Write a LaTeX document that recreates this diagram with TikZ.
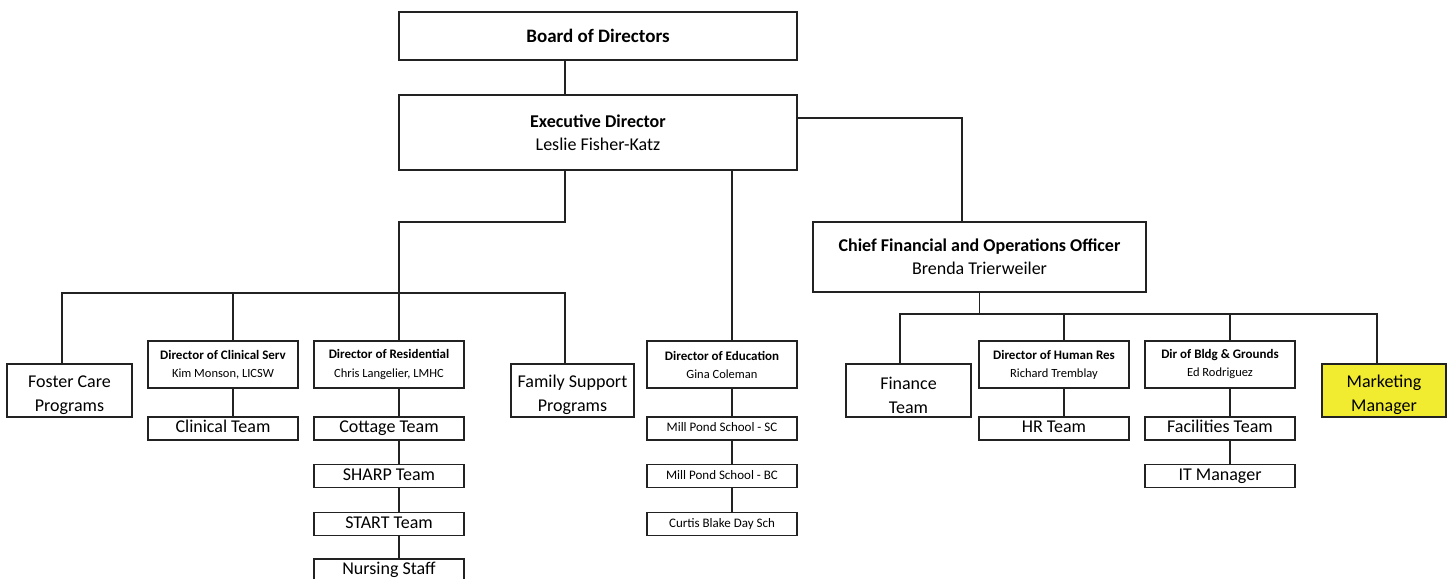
\documentclass[tikz,border=0pt]{standalone}
\usepackage{fontspec}
\setmainfont{Carlito}
\definecolor{linegray}{HTML}{222222}
\definecolor{markyellow}{RGB}{242,236,48}
\tikzset{
  box/.style={draw=linegray, line width=1.4pt, inner sep=0pt, align=center},
  bigbox/.style={box, font=\fontsize{18}{23}\selectfont},
  unitbox/.style={box, font=\fontsize{18}{24}\selectfont},
  smallbox/.style={box, font=\fontsize{13}{18}\selectfont},
  dirbox/.style={smallbox, minimum width=150pt, minimum height=47pt},
  teambox/.style={box, font=\fontsize{18}{20}\selectfont, execute at begin node=\strut,
    minimum width=150pt, minimum height=23pt},
  schoolbox/.style={box, font=\fontsize{13}{16}\selectfont, execute at begin node=\strut,
    minimum width=150pt, minimum height=23pt},
  progbox/.style={unitbox, minimum width=125pt, minimum height=53pt},
}
\newcommand{\who}[1]{{\fontsize{12.5}{18}\selectfont #1}}
\newcommand{\lift}{\rule{0pt}{22pt}}
\begin{document}
\begin{tikzpicture}[x=1pt,y=-1pt]
  \useasboundingbox (0,0) rectangle (1450,578);
  \clip (0,0) rectangle (1450,578);
  \node[bigbox, minimum width=398pt, minimum height=48pt, font=\fontsize{19}{23}\selectfont] (board) at (598,36) {\bfseries Board of Directors};
  \node[bigbox, minimum width=398pt, minimum height=75pt] (exec) at (598,132.5) {\textbf{Executive Director}\\Leslie Fisher-Katz};
  \node[bigbox, minimum width=333pt, minimum height=70pt] (cfo) at (979.5,257) {\textbf{Chief Financial and Operations Officer}\\Brenda Trierweiler};
  % programs side
  \node[progbox] (foster) at (69.5,390.5) {\lift Foster Care\\Programs};
  \node[dirbox] (clin) at (223,364.5) {\textbf{Director of Clinical Serv}\\\who{Kim Monson, LICSW}};
  \node[teambox] (clinteam) at (223,428.5) {Clinical Team};
  \node[dirbox] (resi) at (389,364.5) {\textbf{Director of Residential}\\\who{Chris Langelier, LMHC}};
  \node[teambox] (cottage) at (389,428.5) {Cottage Team};
  \node[teambox] (sharp) at (389,476) {SHARP Team};
  \node[teambox] (start) at (389,524) {START Team};
  \node[teambox] (nursing) at (389,570.5) {Nursing Staff};
  \node[progbox, minimum width=123pt] (family) at (572.5,390.5) {\lift Family Support\\Programs};
  \node[dirbox] (edu) at (722,364.5) {\textbf{Director of Education}\\\who{Gina Coleman}};
  \node[schoolbox] (millsc) at (722,428.5) {Mill Pond School - SC};
  \node[schoolbox] (millbc) at (722,476) {Mill Pond School - BC};
  \node[schoolbox] (curtis) at (722,524) {Curtis Blake Day Sch};
  % operations side
  \node[progbox] (finance) at (908.5,390.5) {\lift Finance\\Team};
  \node[dirbox] (hr) at (1054,364.5) {\textbf{Director of Human Res}\\\who{Richard Tremblay}};
  \node[teambox] (hrteam) at (1054,428.5) {HR Team};
  \node[dirbox] (bldg) at (1220,364.5) {\textbf{Dir of Bldg \& Grounds}\\\who{Ed Rodriguez}};
  \node[teambox] (facil) at (1220,428.5) {Facilities Team};
  \node[teambox] (itman) at (1220,476) {IT Manager};
  \node[progbox, minimum width=124pt, fill=markyellow] (market) at (1384,390.5) {\lift Marketing\\Manager};
  \coordinate (lbend) at (399,222);
  \coordinate (lbar) at (399,293);
  \coordinate (rbar) at (979.5,314);
  \begin{scope}[draw=linegray, line width=1.4pt]
    \draw ([xshift=-33pt]board.south) to ([xshift=-33pt]exec.north);
    \draw ([yshift=14.5pt]exec.east) -| ([xshift=-17.5pt]cfo.north);
    \draw ([xshift=-33pt]exec.south) |- (lbend) to ([xshift=10pt]resi.north);
    \draw ([xshift=-7.5pt]foster.north) |- (lbar) -| ([xshift=-7.5pt]family.north);
    \draw ([xshift=10pt]clin.north) to ([xshift=10pt]clin.north |- lbar);
    \draw[line width=2pt] ([xshift=134pt]exec.south) to ([xshift=10pt]edu.north);
    \draw (cfo.south) to (rbar);
    \draw ([xshift=-8.5pt]finance.north) |- (rbar) -| ([xshift=-7pt]market.north);
    \draw ([xshift=10pt]hr.north) to ([xshift=10pt]hr.north |- rbar);
    \draw ([xshift=10pt]bldg.north) to ([xshift=10pt]bldg.north |- rbar);
    \foreach \a/\b in {clin/clinteam, resi/cottage, cottage/sharp, sharp/start, start/nursing,
      edu/millsc, millsc/millbc, millbc/curtis, hr/hrteam, bldg/facil, facil/itman}
      \draw ([xshift=10pt]\a.south) to ([xshift=10pt]\b.north);
  \end{scope}
\end{tikzpicture}
\end{document}
